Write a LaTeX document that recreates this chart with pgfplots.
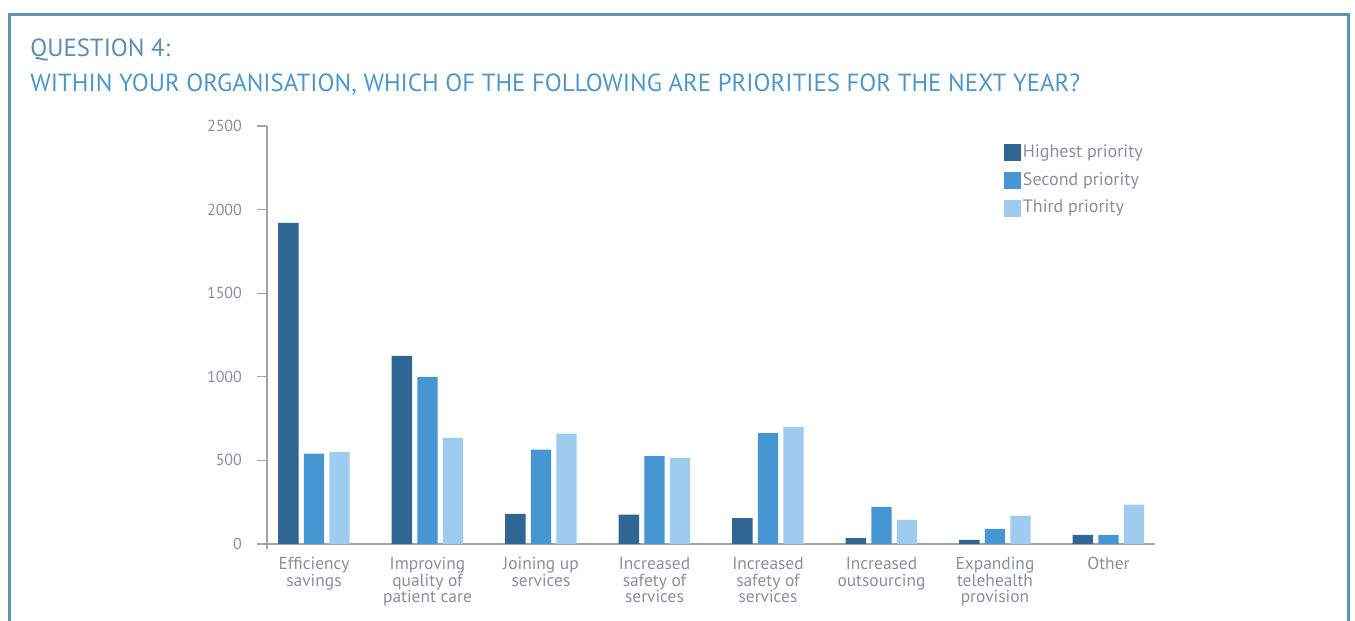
\documentclass[border=0pt]{standalone}
\usepackage{pgfplots}
\pgfplotsset{compat=1.18}
\usepackage{fontspec}
\setmainfont{PT Sans}
\definecolor{c1}{HTML}{2F6693}
\definecolor{c2}{HTML}{4596D3}
\definecolor{c3}{HTML}{9DCCEE}
\definecolor{titleblue}{HTML}{4E98C9}
\definecolor{titlegray}{HTML}{5A8DB6}
\definecolor{framec}{HTML}{5E93B8}
\definecolor{txtgray}{HTML}{8A9098}
\definecolor{axgray}{HTML}{9EA4AA}
\begin{document}
\begin{tikzpicture}[x=0.5pt,y=0.5pt]
\useasboundingbox[fill=white] (0,0) rectangle (1355,621);
\draw[framec, line width=1.5pt] (9,-20) -- (9,606) -- (1348,606) -- (1348,-20);
\node[anchor=base west, inner sep=0pt, text=titlegray, font=\fontsize{12.4}{14}\selectfont] at (30,564) {QUESTION 4:};
\node[anchor=base west, inner sep=0pt, text=titleblue, font=\fontsize{12.4}{14}\selectfont] at (30,529) {WITHIN YOUR ORGANISATION, WHICH OF THE FOLLOWING ARE PRIORITIES FOR THE NEXT YEAR?};
\begin{axis}[
  at={(133.5pt,38.5pt)}, anchor=south west,
  scale only axis, width=444pt, height=209pt,
  xmin=-0.414, xmax=7.41, ymin=0, ymax=2500,
  axis lines=left,
  axis line style={draw=axgray, -, line width=0.6pt},
  x axis line style={shorten <=-5pt},
  y axis line style={shorten <=-2.5pt},
  ytick={0,500,...,2500},
  xtick={0,...,7},
  xticklabels={Efficiency\\savings, Improving\\quality of\\patient care, Joining up\\services, Increased\\safety of\\services, Increased\\safety of\\services, Increased\\outsourcing, Expanding\\telehealth\\provision, Other},
  xticklabel style={align=center, font=\fontsize{8.7}{8.4}\selectfont, text=txtgray, yshift=2pt},
  yticklabel style={font=\fontsize{8}{9}\selectfont, text=txtgray, xshift=-4pt},
  /pgf/number format/assume math mode=true,
  /pgf/number format/set thousands separator={},
  tick align=outside,
  x tick style={draw=none},
  y tick style={draw=axgray, line width=0.6pt},
  major tick length=5pt,
  ybar, bar width=0.18,
  legend style={at={(0.829,0.962)}, anchor=north west, draw=none, fill=none,
    font=\fontsize{9}{9.5}\selectfont, text=txtgray, inner sep=0pt, row sep=3.6pt,
    nodes={inner sep=1.2pt}},
  legend cell align=left,
  legend image code/.code={\fill[#1] (0pt,-4.25pt) rectangle (8.5pt,4.25pt);},
]
\addplot[fill=c1, draw=none, bar shift=-0.225] coordinates {(0,1920) (1,1125) (2,180) (3,175) (4,155) (5,35) (6,25) (7,55)};
\addplot[fill=c2, draw=none, bar shift=0] coordinates {(0,540) (1,1000) (2,565) (3,525) (4,665) (5,222) (6,90) (7,55)};
\addplot[fill=c3, draw=none, bar shift=0.225] coordinates {(0,550) (1,635) (2,660) (3,515) (4,700) (5,145) (6,168) (7,235)};
\legend{Highest priority, Second priority, Third priority}
\end{axis}
\end{tikzpicture}
\end{document}
